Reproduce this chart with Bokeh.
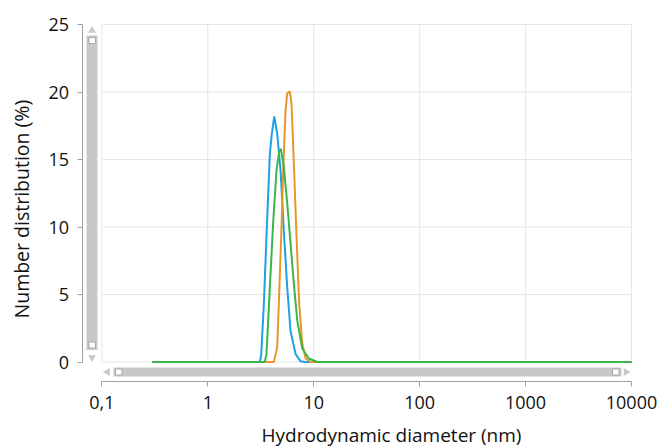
import math
from bokeh.plotting import figure
from bokeh.models import Range1d, FixedTicker, Label
from bokeh.embed import file_html
from bokeh.resources import INLINE

# ---------------- data ----------------
x_ticks = [0.1, 1, 10, 100, 1000, 10000]
x_tick_labels = ["0,1", "1", "10", "100", "1000", "10000"]
y_ticks = [0, 5, 10, 15, 20, 25]

blue_d = [0.3, 3.10, 3.19, 3.38, 3.58, 3.85, 4.02, 4.24, 4.52, 4.86, 5.22,
          5.62, 6.04, 6.73, 7.50, 8.37, 10000]
blue_n = [0, 0, 0.5, 4.3, 9.3, 15.4, 16.9, 18.2, 16.9, 14.2, 9.7,
          5.5, 2.3, 0.6, 0.05, 0, 0]

orange_d = [0.3, 4.20, 4.52, 4.68, 4.93, 5.15, 5.42, 5.62, 5.94, 6.17, 6.49,
            6.88, 7.29, 7.79, 8.37, 9.33, 10000]
orange_n = [0, 0, 1.1, 4.3, 9.3, 14.2, 18.65, 19.9, 20.05, 19.15, 14.7,
            9.3, 4.3, 1.4, 0.26, 0, 0]

green_d = [0.3, 3.45, 3.58, 3.85, 4.15, 4.45, 4.72, 4.89, 5.22, 5.62, 6.04,
           6.49, 6.98, 7.79, 8.99, 10.8, 10000]
green_n = [0, 0, 0.6, 5.5, 10.5, 14.2, 15.6, 15.8, 14.45, 11.75, 8.8,
           5.8, 3.1, 1.0, 0.26, 0, 0]

x_label = "Hydrodynamic diameter (nm)"
y_label = "Number distribution (%)"

BLUE, ORANGE, GREEN = "#1CA2E6", "#E8962A", "#3BB54A"

# ---------------- layout (canvas pixels) ----------------
W, H = 659, 448
X0, X1 = 101.4, 631.0                      # pixel of 0.1 and 10000
Y0, Y25 = 361.5, 24.0                      # pixel of 0 and 25
AXIS_X_PX, AXIS_Y_PX = 81.5, 381.0         # where the two axis lines sit

k = 5.0 / (X1 - X0)
u = 25.0 / (Y0 - Y25)


def px2x(px):
    return 10 ** (-1 + (px - X0) * k)


def px2y(py):
    return (Y0 - py) * u


p = figure(width=W, height=H, x_axis_type="log",
           x_range=Range1d(px2x(0), px2x(W)), y_range=Range1d(px2y(H), px2y(0)),
           output_backend="svg", toolbar_location=None,
           min_border_left=0, min_border_right=0,
           min_border_top=0, min_border_bottom=0,
           outline_line_color=None, background_fill_color="white",
           border_fill_color="white")

p.grid.visible = False

# grid lines limited to data area
GRID = "#e6e6e6"
p.segment(x0=x_ticks, x1=x_ticks, y0=[y_ticks[0]] * len(x_ticks),
          y1=[y_ticks[-1]] * len(x_ticks), line_color=GRID, line_width=1)
p.segment(x0=[x_ticks[0]] * len(y_ticks), x1=[x_ticks[-1]] * len(y_ticks),
          y0=y_ticks, y1=y_ticks, line_color=GRID, line_width=1)

# axes (placed inside the canvas at fixed positions)
AX = "#a0a0a0"
FONT = "Open Sans"
for ax in (p.xaxis[0], p.yaxis[0]):
    ax.axis_line_color = AX
    ax.major_tick_line_color = AX
    ax.minor_tick_line_color = None
    ax.major_tick_out = 5
    ax.major_tick_in = 0
    ax.major_label_text_font = FONT
    ax.major_label_text_font_size = "18px"
    ax.major_label_text_color = "#111111"

p.xaxis.ticker = FixedTicker(ticks=x_ticks)
p.xaxis.bounds = (x_ticks[0], x_ticks[-1])
p.xaxis.major_label_overrides = dict(zip(x_ticks, x_tick_labels))
p.xaxis.major_label_standoff = 9
p.xaxis.fixed_location = px2y(AXIS_Y_PX)

p.yaxis.ticker = FixedTicker(ticks=y_ticks)
p.yaxis.bounds = (y_ticks[0], y_ticks[-1])
p.yaxis.major_label_standoff = 8
p.yaxis.fixed_location = px2x(AXIS_X_PX)

# axis titles
p.add_layout(Label(x=px2x(261), y=px2y(447), text=x_label, text_font=FONT,
                   text_font_size="19px", text_color="#111111",
                   text_align="left", text_baseline="bottom"))
p.add_layout(Label(x=px2x(21), y=px2y(318), text=y_label, text_font=FONT,
                   text_font_size="19.5px", text_color="#111111", angle=math.pi / 2,
                   text_align="left", text_baseline="middle"))

# ---------------- scrollbar decorations ----------------
BAR = "#c8c8c8"
HB = "#a8a8a8"
# vertical
p.quad(left=[px2x(86)], right=[px2x(97)], top=[px2y(35)], bottom=[px2y(349.5)],
       fill_color=BAR, line_color=None)
p.quad(left=[px2x(88.5)] * 2, right=[px2x(95)] * 2,
       top=[px2y(37), px2y(341.5)], bottom=[px2y(43), px2y(347.5)],
       fill_color="white", line_color=HB, line_width=1)
p.scatter(x=[px2x(91.5)], y=[px2y(30)], marker="triangle", size=8,
          fill_color=BAR, line_color=None)
p.scatter(x=[px2x(91.5)], y=[px2y(357)], marker="inverted_triangle", size=8,
          fill_color=BAR, line_color=None)
# horizontal
p.quad(left=[px2x(113)], right=[px2x(621)], top=[px2y(367)], bottom=[px2y(376)],
       fill_color=BAR, line_color=None)
p.quad(left=[px2x(115), px2x(612)], right=[px2x(121.5), px2x(618.5)],
       top=[px2y(368.5)] * 2, bottom=[px2y(374.5)] * 2,
       fill_color="white", line_color=HB, line_width=1)
p.scatter(x=[px2x(107)], y=[px2y(371.5)], marker="triangle", size=8,
          angle=math.pi / 2, fill_color=BAR, line_color=None)
p.scatter(x=[px2x(625.5)], y=[px2y(371.5)], marker="triangle", size=8,
          angle=-math.pi / 2, fill_color=BAR, line_color=None)

# ---------------- data lines ----------------
p.line(blue_d, blue_n, line_color=BLUE, line_width=2)
p.line(orange_d, orange_n, line_color=ORANGE, line_width=2)
p.line(green_d, green_n, line_color=GREEN, line_width=2)

open("out.html", "w").write(file_html(p, INLINE))
